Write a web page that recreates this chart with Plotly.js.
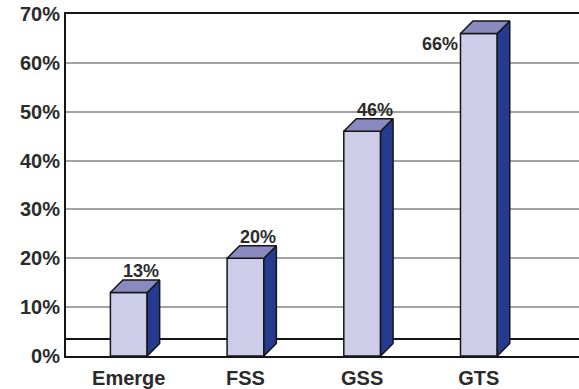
<!DOCTYPE html>
<html>
<head>
<meta charset="utf-8">
<script src="https://cdn.plot.ly/plotly-3.0.1.min.js"></script>
<style>
  html, body { margin: 0; padding: 0; background: #ffffff; }
  #chart { width: 579px; height: 389px; }
</style>
</head>
<body>
<div id="chart"></div>
<script>
// Share of respondents by programme
const categories = ['Emerge', 'FSS', 'GSS', 'GTS'];
const shares = [13, 20, 46, 66];
const yTicks = [0, 10, 20, 30, 40, 50, 60, 70];
const yTickLabels = yTicks.map(v => v + '%');

// Geometry of the pseudo-3D boxes
const W = 579, H = 389;
const M = { l: 66, r: 0, t: 14, b: 33 };
const X_RANGE = [-0.538, 3.858];
const Y_RANGE = [0, 70];
const BAR_W = 0.315;          // front face width, in category units
const DEPTH_PX = 12.5;        // receding depth of each box, in pixels
const FLOOR_PX = 17;          // back edge of the floor, in pixels above the axis

const pxPerX = (W - M.l - M.r) / (X_RANGE[1] - X_RANGE[0]);
const pxPerY = (H - M.t - M.b) / (Y_RANGE[1] - Y_RANGE[0]);
const dx = DEPTH_PX / pxPerX;
const dy = DEPTH_PX / pxPerY;
const floorY = FLOOR_PX / pxPerY;

const pos = categories.map((_, i) => i);

const FRONT = '#cdcdea';
const TOP = '#8a8ac0';
const SIDE = '#253b8f';
const EDGE = '#151515';

// Right-hand side faces
const sideX = [], sideY = [];
// Top faces
const topX = [], topY = [];
pos.forEach((p, i) => {
  const v = shares[i];
  const l = p - BAR_W / 2, r = p + BAR_W / 2;
  sideX.push(r, r + dx, r + dx, r, r, null);
  sideY.push(0, dy, v + dy, v, 0, null);
  topX.push(l, r, r + dx, l + dx, l, null);
  topY.push(v, v, v + dy, v + dy, v, null);
});

const traces = [
  {
    type: 'bar', x: pos, y: shares, width: BAR_W,
    marker: { color: FRONT, line: { color: EDGE, width: 1.5 } },
    hoverinfo: 'skip'
  },
  {
    type: 'scatter', mode: 'lines', x: sideX, y: sideY,
    fill: 'toself', fillcolor: SIDE,
    line: { color: EDGE, width: 1.5 }, hoverinfo: 'skip'
  },
  {
    type: 'scatter', mode: 'lines', x: topX, y: topY,
    fill: 'toself', fillcolor: TOP,
    line: { color: EDGE, width: 1.5 }, hoverinfo: 'skip'
  }
];

const labelFont = { family: 'Liberation Sans, Arial, sans-serif', size: 18, weight: 'bold', color: '#2b2b2b' };

// Value labels: above each box, or beside it when there is no headroom
const annotations = pos.map((p, i) => {
  const v = shares[i];
  const roomy = v + dy + 22 / pxPerY < Y_RANGE[1];
  return roomy ? {
    x: p + dx, y: v + dy, xref: 'x', yref: 'y',
    text: v + '%', showarrow: false,
    xanchor: 'center', yanchor: 'bottom', yshift: -3,
    font: labelFont
  } : {
    x: p - BAR_W / 2, y: v, xref: 'x', yref: 'y',
    text: v + '%', showarrow: false,
    xanchor: 'right', yanchor: 'top', xshift: 0, yshift: 2,
    font: labelFont
  };
});

const tickFont = { family: 'Liberation Sans, Arial, sans-serif', size: 20, weight: 'bold', color: '#2b2b2b' };

const layout = {
  width: W, height: H,
  margin: M,
  paper_bgcolor: '#ffffff', plot_bgcolor: '#ffffff',
  showlegend: false,
  xaxis: {
    range: X_RANGE, tickvals: pos, ticktext: categories,
    showgrid: false, zeroline: false,
    showline: true, mirror: true, linecolor: EDGE, linewidth: 2,
    ticks: '', ticklabelstandoff: 3, tickfont: tickFont, fixedrange: true
  },
  yaxis: {
    range: Y_RANGE, tickvals: yTicks, ticktext: yTickLabels,
    showgrid: true, gridcolor: '#a3a3a3', gridwidth: 2,
    zeroline: false,
    showline: true, linecolor: EDGE, linewidth: 2,
    ticks: '', tickfont: tickFont, fixedrange: true
  },
  shapes: [{
    type: 'line', xref: 'paper', yref: 'y',
    x0: 0, x1: 1, y0: floorY, y1: floorY,
    line: { color: EDGE, width: 2 }, layer: 'below'
  }],
  annotations: annotations
};

Plotly.newPlot('chart', traces, layout, { staticPlot: true, displayModeBar: false });
</script>
</body>
</html>
